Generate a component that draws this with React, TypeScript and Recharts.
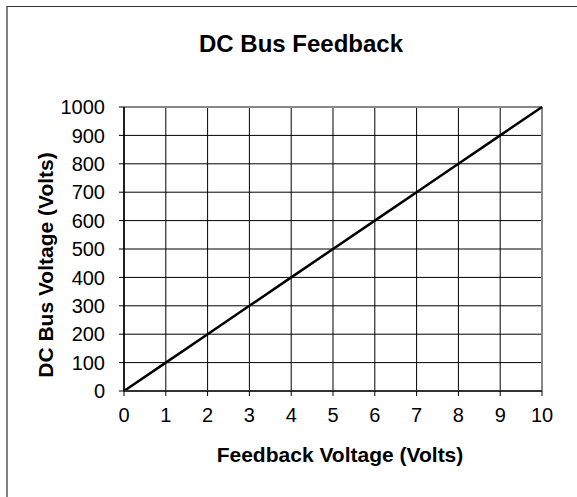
import React from 'react';
import { LineChart, Line, XAxis, YAxis, CartesianGrid, ReferenceLine } from 'recharts';

const feedbackVolts = [0, 1, 2, 3, 4, 5, 6, 7, 8, 9, 10];
const busVolts = [0, 100, 200, 300, 400, 500, 600, 700, 800, 900, 1000];
const xTicks = [0, 1, 2, 3, 4, 5, 6, 7, 8, 9, 10];
const yTicks = [0, 100, 200, 300, 400, 500, 600, 700, 800, 900, 1000];
const chartTitle = 'DC Bus Feedback';
const xTitle = 'Feedback Voltage (Volts)';
const yTitle = 'DC Bus Voltage (Volts)';

const data = feedbackVolts.map((x, i) => ({ x, y: busVolts[i] }));

const FONT = '"Liberation Sans", Arial, sans-serif';

export default function App() {
  return (
    <div style={{ position: 'absolute', left: 0, top: 0, width: 577, height: 497, overflow: 'hidden', background: '#fff', fontFamily: FONT }}>
      <div style={{ position: 'absolute', left: 6, top: 6, width: 620, height: 540, borderLeft: '2px solid #808080', borderTop: '1px solid #333' }} />
      <div style={{ position: 'absolute', left: 0, top: 0 }}>
        <LineChart width={577} height={497} data={data} margin={{ top: 107, right: 35, bottom: 76, left: 64 }}>
          <CartesianGrid stroke="#000" strokeWidth={1} verticalPoints={undefined} />
          <XAxis
            dataKey="x"
            type="number"
            domain={[0, 10]}
            ticks={xTicks}
            interval={0}
            height={30}
            tickSize={5}
            tickMargin={12}
            stroke="#333"
            strokeWidth={2}
            tick={{ fill: '#000', fontSize: 20, fontFamily: FONT }}
            tickLine={{ stroke: '#000', strokeWidth: 1 }}
          />
          <YAxis
            type="number"
            domain={[0, 1000]}
            ticks={yTicks}
            interval={0}
            width={60}
            tickSize={5}
            tickMargin={14}
            stroke="#000"
            strokeWidth={1.5}
            tick={{ fill: '#000', fontSize: 20, fontFamily: FONT }}
            tickLine={{ stroke: '#000', strokeWidth: 1 }}
          />
          <ReferenceLine y={1000} stroke="#888" strokeWidth={2} />
          <ReferenceLine x={10} stroke="#888" strokeWidth={2} />
          <Line type="linear" dataKey="y" stroke="#000" strokeWidth={2.5} dot={false} isAnimationActive={false} />
        </LineChart>
      </div>
      <svg width={577} height={497} style={{ position: 'absolute', left: 0, top: 0, pointerEvents: 'none' }}>
        <text x={301} y={52} textAnchor="middle" fontFamily={FONT} fontWeight="bold" fontSize={24} fill="#000">{chartTitle}</text>
        <text x={340} y={462} textAnchor="middle" fontFamily={FONT} fontWeight="bold" fontSize={21} fill="#000">{xTitle}</text>
        <text x={53} y={265} textAnchor="middle" fontFamily={FONT} fontWeight="bold" fontSize={21} fill="#000" transform="rotate(-90 53 265)">{yTitle}</text>
      </svg>
    </div>
  );
}
